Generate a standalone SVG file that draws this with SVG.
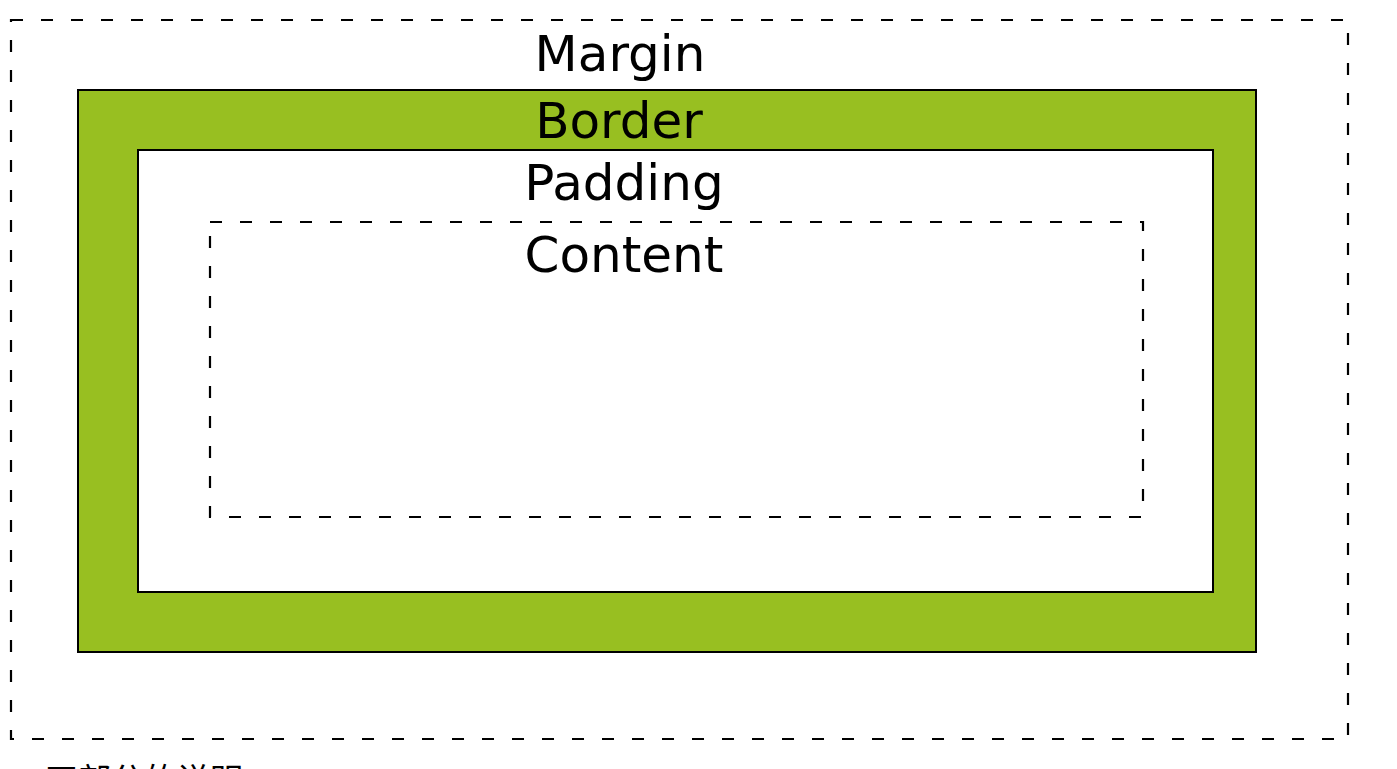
<svg xmlns="http://www.w3.org/2000/svg" width="1397" height="769" viewBox="0 0 1397 769">
<style>
.dash{fill:none;stroke:#000;stroke-width:2.2;stroke-dasharray:12 18}
.solid{stroke:#000;stroke-width:2}
.lbl{font-family:"DejaVu Sans",Verdana,sans-serif;font-size:50px;fill:#000;text-anchor:middle}
.cn{font-family:"Noto Sans CJK SC",sans-serif;font-size:33px;fill:#000}
</style>
<rect width="1397" height="769" fill="#fff"/>
<g id="margin">
<rect class="dash" x="11" y="20" width="1337" height="719"/>
<text class="lbl" x="620" y="71">Margin</text>
</g>
<g id="border">
<rect class="solid" x="78" y="90" width="1178" height="562" fill="#98BF21"/>
<text class="lbl" x="619" y="138">Border</text>
</g>
<g id="padding">
<rect class="solid" x="138" y="150" width="1075" height="442" fill="#fff"/>
<text class="lbl" x="624" y="200">Padding</text>
</g>
<g id="content">
<rect class="dash" x="210" y="222" width="933" height="295"/>
<text class="lbl" x="624" y="272">Content</text>
</g>
<g id="connectors"></g>
<text class="cn" x="45" y="792">四部分的说明：</text>
</svg>
